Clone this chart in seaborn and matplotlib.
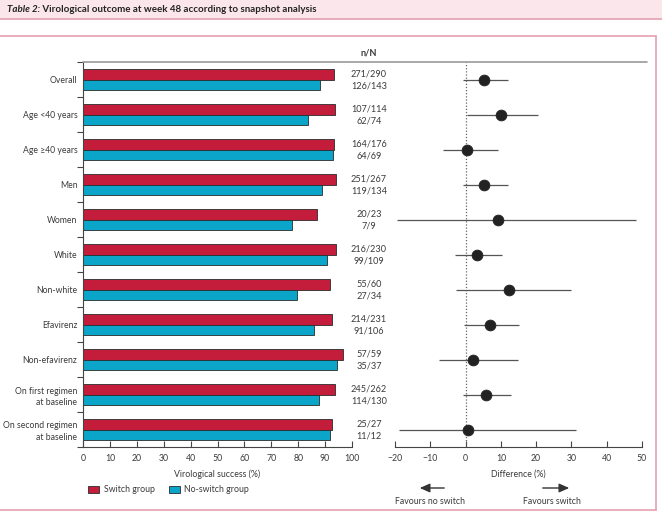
#!/usr/bin/env python3
import matplotlib
matplotlib.use('Agg')
import matplotlib.pyplot as plt
import matplotlib.transforms as mtransforms
from matplotlib.lines import Line2D
from matplotlib.patches import Rectangle
from matplotlib.ticker import FixedLocator
import pandas as pd
import seaborn as sns

sns.set_theme(style='white')
plt.rcParams['font.family'] = ['Lato', 'DejaVu Sans']

RED = '#C41C3B'
BLUE = '#0AA5C8'
PINK = '#E4A0B0'
TXT = '#3a3a3a'
FS = 6.3

categories = [
    'Overall', 'Age <40 years', 'Age ≥40 years', 'Men', 'Women', 'White',
    'Non-white', 'Efavirenz', 'Non-efavirenz',
    'On first regimen\nat baseline', 'On second regimen\nat baseline',
]
switch_n = [271, 107, 164, 251, 20, 216, 55, 214, 57, 245, 25]
switch_N = [290, 114, 176, 267, 23, 230, 60, 231, 59, 262, 27]
noswitch_n = [126, 62, 64, 119, 7, 99, 27, 91, 35, 114, 11]
noswitch_N = [143, 74, 69, 134, 9, 109, 34, 106, 37, 130, 12]

# difference in success (switch - no switch) with 95% CI
diff = [5.2, 10.0, 0.5, 5.2, 9.1, 3.1, 12.4, 6.8, 2.1, 5.8, 0.8]
ci_low = [-0.8, 0.5, -6.4, -0.8, -19.4, -2.9, -2.6, -0.5, -7.6, -0.8, -18.8]
ci_high = [12.1, 20.6, 9.3, 11.9, 48.2, 10.3, 29.9, 15.1, 14.8, 13.0, 31.4]

groups = ['Switch group', 'No-switch group']

bars = pd.DataFrame({
    'category': categories * 2,
    'group': [groups[0]] * len(categories) + [groups[1]] * len(categories),
    'success': [100 * a / b for a, b in zip(switch_n, switch_N)]
    + [100 * a / b for a, b in zip(noswitch_n, noswitch_N)],
})
forest = pd.DataFrame({
    'pos': range(len(categories)),
    'diff': diff, 'lo': ci_low, 'hi': ci_high,
})

W, H = 662, 513
fig = plt.figure(figsize=(W / 100, H / 100), dpi=100)

def fx(px):
    return px / W

def fy(py):
    return 1 - py / H

# header band and pink frame
fig.patches.append(Rectangle((0, fy(19)), 1, 19 / H, transform=fig.transFigure,
                             facecolor='#FBE7EB', edgecolor='none', zorder=0))
for xs, ys in [((0, 1), (fy(19), fy(19))), ((0, fx(656)), (fy(36), fy(36))),
               ((fx(656), fx(656)), (fy(36), fy(510))),
               ((0, fx(656)), (fy(510), fy(510)))]:
    fig.add_artist(Line2D(xs, ys, transform=fig.transFigure, color=PINK, lw=1.2))

t1 = fig.text(fx(7), fy(10), 'Table 2:', style='italic', fontsize=7,
              color='#222', va='center', ha='left', weight='bold')
fig.add_artist(plt.Annotation(' Virological outcome at week 48 according to snapshot analysis',
                              xy=(1, 0.5), xycoords=t1, va='center', ha='left',
                              fontsize=7, color='#222', weight='bold'))

ax_bar = fig.add_axes([fx(83), 1 - 447 / H, 269 / W, 385 / H])
ax_ci = fig.add_axes([fx(395), 1 - 447 / H, 247 / W, 385 / H])

sns.barplot(data=bars, y='category', x='success', hue='group', orient='h',
            palette=[RED, BLUE], saturation=1, width=0.58, edgecolor='#2b2b2b',
            linewidth=0.6, ax=ax_bar)
ax_bar.set_xlim(0, 100)
ax_bar.set_ylim(10.5, -0.5)
ax_bar.set_xticks(range(0, 101, 10))
ax_bar.yaxis.set_minor_locator(FixedLocator([i - 0.5 for i in range(12)]))
ax_bar.tick_params(axis='y', which='major', length=0, labelsize=6.2, labelcolor=TXT, pad=4)
ax_bar.tick_params(axis='y', which='minor', length=4, width=0.8, color='#444', direction='out', left=True)
ax_bar.tick_params(axis='x', length=4, width=0.8, color='#444', direction='in', labelsize=FS,
                   labelcolor=TXT, pad=5, bottom=True)
for lab in ax_bar.get_yticklabels():
    lab.set_linespacing(1.4)
ax_bar.set_ylabel('')
ax_bar.set_xlabel('Virological success (%)', fontsize=FS, color=TXT, labelpad=5)
for s in ['top', 'right']:
    ax_bar.spines[s].set_visible(False)
for s in ['left', 'bottom']:
    ax_bar.spines[s].set_color('#444')
    ax_bar.spines[s].set_linewidth(0.8)

sns.move_legend(ax_bar, 'center left', bbox_to_anchor=(fx(80), fy(490)),
                bbox_transform=fig.transFigure, ncol=2, frameon=False, title=None,
                fontsize=FS, handlelength=1.3, handleheight=1.0, columnspacing=1.6,
                handletextpad=0.5, labelcolor=TXT)

# n/N column
trans = mtransforms.blended_transform_factory(fig.transFigure, ax_bar.transData)
for i in range(len(categories)):
    ax_bar.text(fx(369), i - 0.16, f'{switch_n[i]}/{switch_N[i]}', transform=trans,
                ha='center', va='center', fontsize=FS + 0.3, color=TXT, clip_on=False)
    ax_bar.text(fx(369), i + 0.18, f'{noswitch_n[i]}/{noswitch_N[i]}', transform=trans,
                ha='center', va='center', fontsize=FS + 0.3, color=TXT, clip_on=False)
fig.text(fx(369), fy(53), 'n/N', ha='center', va='center', fontsize=FS + 0.3, weight='bold', color=TXT)
fig.add_artist(Line2D((fx(83), fx(647)), (fy(62), fy(62)), transform=fig.transFigure,
                      color='#9a9a9a', lw=1.2))

# forest plot
ax_ci.hlines(forest['pos'], forest['lo'], forest['hi'], color='#555', lw=0.9)
sns.scatterplot(data=forest, x='diff', y='pos', ax=ax_ci, s=60, color='#222',
                edgecolor='#222', zorder=3, legend=False)
ax_ci.axvline(0, color='#666', lw=0.9, ls=(0, (1, 1.5)), zorder=1)
ax_ci.set_xlim(-20, 50)
ax_ci.set_ylim(10.5, -0.5)
ax_ci.set_xticks(range(-20, 51, 10))
ax_ci.set_yticks([])
ax_ci.tick_params(axis='x', length=4, width=0.8, color='#444', direction='in', labelsize=FS,
                  labelcolor=TXT, pad=5, bottom=True)
ax_ci.set_ylabel('')
ax_ci.set_xlabel('Difference (%)', fontsize=FS, color=TXT, labelpad=5)
for s in ['top', 'right', 'left']:
    ax_ci.spines[s].set_visible(False)
ax_ci.spines['bottom'].set_color('#444')
ax_ci.spines['bottom'].set_linewidth(0.8)

# favours arrows
arrow = dict(arrowstyle='-|>,head_length=0.5,head_width=0.22', color='#333', lw=1)
ax_ci.annotate('', xy=(417, H - 488), xytext=(447, H - 488), xycoords='figure pixels',
               textcoords='figure pixels', arrowprops=arrow)
ax_ci.annotate('', xy=(572, H - 488), xytext=(540, H - 488), xycoords='figure pixels',
               textcoords='figure pixels', arrowprops=arrow)
fig.text(fx(430), fy(501), 'Favours no switch', ha='center', va='center', fontsize=FS, color=TXT)
fig.text(fx(552), fy(501), 'Favours switch', ha='center', va='center', fontsize=FS, color=TXT)

plt.savefig('out.png', dpi=100)
